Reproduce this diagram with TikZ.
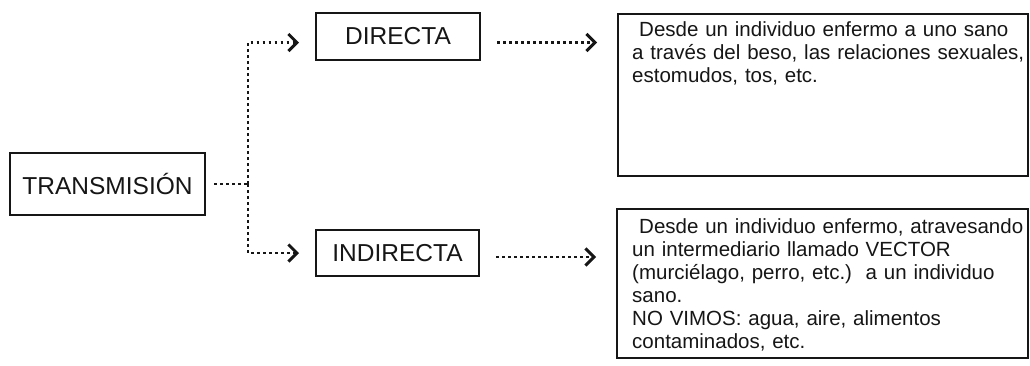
\documentclass[tikz,border=0pt]{standalone}
\usepackage{fontspec}
\setmainfont{Liberation Sans}
\usetikzlibrary{arrows.meta}
\definecolor{ink}{HTML}{161616}
\tikzset{
  box/.style={draw=ink, line width=2pt, inner sep=0pt, text=ink,
    font={\fontsize{24.5}{28}\selectfont}},
  bigbox/.style={draw=ink, line width=2pt, inner sep=0pt},
  bodytext/.style={text=ink, inner sep=0pt, align=left, anchor=north west,
    text width=400pt, font={\fontsize{20.5}{23}\selectfont}},
  dotline/.style={draw=ink, line width=2.8pt, dash pattern=on 2.6pt off 3.4pt},
  tip/.style={-{Straight Barb[length=8.5pt,width=17pt,line width=3pt]}}
}
\begin{document}
\begin{tikzpicture}[x=1pt,y=-1pt]
\useasboundingbox[fill=white] (0,0) rectangle (1030,365);
% main boxes
\node[box, minimum width=195pt, minimum height=62pt] (trans) at (107.5,184) {TRANSMISIÓN};
\node[box, minimum width=164pt, minimum height=47pt] (dir) at (398,36.5) {DIRECTA};
\node[box, minimum width=163pt, minimum height=46pt] (ind) at (397.5,253) {INDIRECTA};
% description boxes
\node[bigbox, minimum width=410pt, minimum height=162pt] (dbox) at (823,95) {};
\node[bigbox, minimum width=411pt, minimum height=149pt] (ibox) at (822.5,283) {};
\node[bodytext] (dtext) at (632,21) {\hspace*{7pt}Desde un individuo enfermo a uno sano\\
a través del beso, las relaciones sexuales,\\
estomudos, tos, etc.};
\node[bodytext] (itext) at (632,218) {\hspace*{7pt}Desde un individuo enfermo, atravesando\\
un intermediario llamado VECTOR\\
(murciélago, perro, etc.)\ \ a un individuo\\
sano.\\
NO VIMOS: agua, aire, alimentos\\
contaminados, etc.};
% connectors
\coordinate (j) at (248,184);
\draw[dotline, shorten <=8pt] (trans.east) -- (j);
\draw[dotline, tip, shorten >=16pt] (j) |- ([yshift=-6pt]dir.west);
\draw[dotline, tip, shorten >=16pt] (j) |- (ind.west);
\draw[dotline, tip, shorten <=16pt, shorten >=20pt] ([yshift=-6pt]dir.east) -- ([yshift=-6pt]dir.east -| dbox.west);
\draw[dotline, tip, shorten <=16pt, shorten >=20pt] ([yshift=-4pt]ind.east) -- ([yshift=-4pt]ind.east -| ibox.west);
\end{tikzpicture}
\end{document}
